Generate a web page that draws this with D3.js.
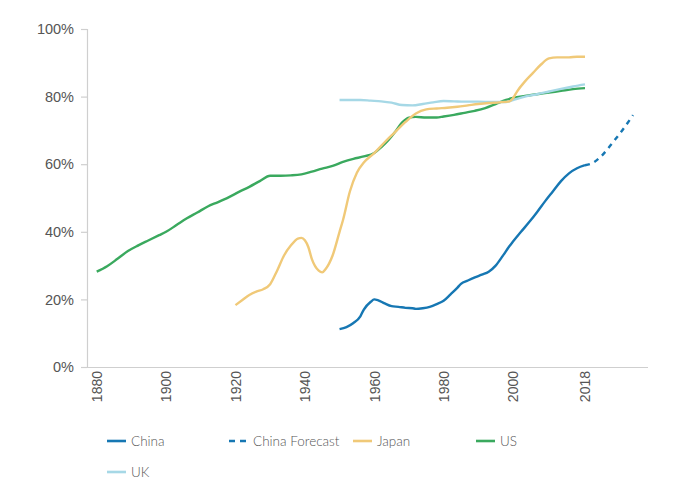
<!DOCTYPE html>
<html><head><meta charset="utf-8">
<script src="https://cdn.jsdelivr.net/npm/d3@7"></script>
<style>
body{margin:0;background:#fff;}
svg{display:block;font-family:Lato,"Open Sans",sans-serif;}
</style></head>
<body><svg id="c" width="700" height="485"></svg>
<script>
const xTicks = [1880,1900,1920,1940,1960,1980,2000,2018];
const yTicks = [0,20,40,60,80,100];
const seriesNames = ["China","China Forecast","Japan","US","UK"];
const seriesColors = ["#1677b3","#1677b3","#f0c978","#3aa95e","#a6d8e6"];

const chinaYears = [1950,1952,1954,1956,1957,1959,1960,1961,1963,1965,1967,1969,1971,1972,1974,1976,1978,1980,1982,1984,1985,1987,1989,1991,1993,1995,1997,1999,2000,2002,2004,2006,2008,2010,2012,2014,2016,2018];
const chinaValues = [11.2,11.8,13,15,17,19.3,20,19.8,18.8,18,17.8,17.5,17.4,17.2,17.4,17.8,18.6,19.6,21.5,23.5,24.6,25.6,26.5,27.3,28.2,30,32.8,35.8,37.1,40,42.8,45.8,49,52,55,57.3,58.8,59.7];

const forecastYears = [2018,2020,2022,2025,2027,2030];
const forecastValues = [59.7,60.4,62.3,66.5,69.5,74.5];

const japanYears = [1920,1922,1924,1926,1928,1930,1932,1934,1936,1938,1939,1940,1941,1942,1944,1945,1946,1948,1950,1951,1953,1955,1957,1960,1963,1966,1969,1972,1975,1978,1981,1984,1987,1990,1993,1996,1999,2000,2001,2003,2005,2007,2009,2011,2014,2016,2018];
const japanValues = [18.3,19.8,21.3,22.3,23,24.5,28.5,33,36,38,38.2,37.5,35.5,32,28.5,28,29,33,40,43.5,52,57.5,60.5,63.3,66.5,69.5,72.5,75,76.2,76.5,76.7,77,77.4,77.8,78.1,78.3,78.6,79.5,81.5,84.5,87,89.5,91.3,91.6,91.6,91.8,91.8];

const usYears = [1880,1883,1886,1889,1892,1895,1898,1900,1903,1906,1909,1912,1915,1918,1921,1924,1927,1930,1933,1936,1939,1942,1945,1948,1951,1954,1957,1960,1962,1964,1966,1968,1970,1972,1975,1978,1980,1983,1986,1989,1992,1995,1998,2000,2003,2006,2009,2012,2015,2018];
const usValues = [28.2,29.8,32,34.3,36,37.5,39,40,42,44,45.7,47.5,48.8,50.2,51.8,53.3,55,56.6,56.6,56.7,57,57.8,58.7,59.5,60.7,61.6,62.3,63.3,65,67,69.5,72.3,73.8,74,73.8,73.8,74.1,74.6,75.2,75.8,76.6,77.8,79,79.6,80.2,80.7,81.2,81.7,82.2,82.5];

const ukYears = [1950,1953,1956,1959,1962,1965,1968,1971,1974,1977,1980,1983,1986,1990,1994,1998,2000,2003,2006,2009,2012,2015,2018];
const ukValues = [79,79,79,78.8,78.6,78.2,77.5,77.4,77.8,78.3,78.7,78.6,78.5,78.5,78.4,78.4,79,80,80.7,81.5,82.3,83,83.6];

const svg = d3.select("#c");
const x = d3.scaleLinear().domain([1880,2000,2018]).range([96.7,513,585]);
const y = d3.scaleLinear().domain([0,100]).range([367,29]);

// y axis
const ya = svg.append("g").attr("transform","translate(87,0)")
  .call(d3.axisLeft(y).tickValues(yTicks).tickSize(6).tickPadding(7).tickFormat(d=>d+"%"));
ya.select(".domain").attr("stroke","#cfcfcf").attr("stroke-width",1.2);
ya.selectAll(".tick line").attr("stroke","#cfcfcf").attr("stroke-width",1.2);
ya.selectAll("text").attr("fill","#555").attr("font-size","14.5px").attr("font-weight",300);

// x axis
const xa = svg.append("g").attr("transform","translate(0,367)")
  .call(d3.axisBottom(x).tickValues(xTicks).tickSize(0).tickPadding(0).tickFormat(d=>String(d)));
xa.select(".domain").attr("d","M87,0.5H648").attr("stroke","#cfcfcf").attr("stroke-width",1.2);
xa.selectAll(".tick text").attr("fill","#555").attr("font-size","14px").attr("font-weight",300)
  .attr("text-anchor","end").attr("dy","0.35em").attr("transform","translate(0,4) rotate(-90)").attr("x",0).attr("y",0);

const line = d3.line().x(d=>x(d[0])).y(d=>y(d[1])).curve(d3.curveMonotoneX);
function draw(years, vals, color, dash){
  svg.append("path").datum(years.map((yr,i)=>[yr,vals[i]]))
    .attr("d",line).attr("fill","none").attr("stroke",color).attr("stroke-width",2.4)
    .attr("stroke-linejoin","round").attr("stroke-dasharray",dash||null);
}
draw(usYears, usValues, seriesColors[3]);
draw(ukYears, ukValues, seriesColors[4]);
draw(japanYears, japanValues, seriesColors[2]);
draw(chinaYears, chinaValues, seriesColors[0]);
draw(forecastYears.slice(0), forecastValues, seriesColors[1], "5,5");

// legend
const legPos = [[107,441],[229,441],[353,441],[476,441],[107,472]];
seriesNames.forEach((n,i)=>{
  const g = svg.append("g").attr("transform",`translate(${legPos[i][0]},${legPos[i][1]})`);
  g.append("line").attr("x1",0).attr("x2",19).attr("y1",0).attr("y2",0)
    .attr("stroke",seriesColors[i]).attr("stroke-width",2.6)
    .attr("stroke-dasharray", i===1 ? "6,5" : null);
  g.append("text").attr("x",24).attr("y",0).attr("dy","0.35em")
    .attr("font-size","13.5px").attr("fill","#555").attr("font-weight",300).text(n);
});
</script></body></html>
